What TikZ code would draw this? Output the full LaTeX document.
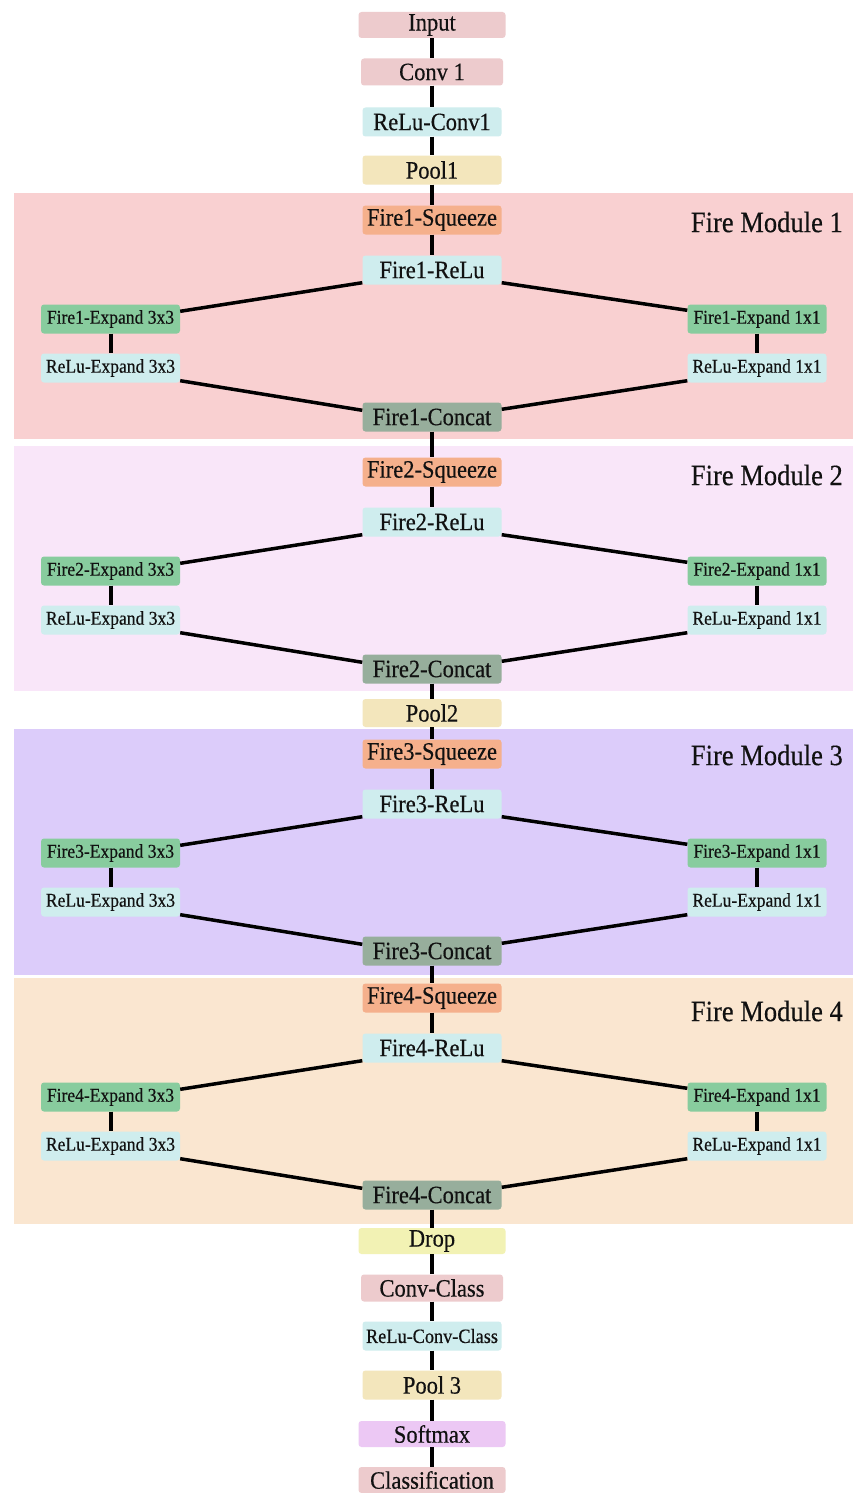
\documentclass[tikz,border=0pt]{standalone}
\usepackage{fontspec}
\setmainfont{Liberation Serif}[FakeStretch=0.9, FakeBold=0.4]
\usetikzlibrary{calc}
\definecolor{cpink}{HTML}{EDCBCD}
\definecolor{ccyan}{HTML}{CFEDEE}
\definecolor{cpool}{HTML}{F3E6BC}
\definecolor{csq}{HTML}{F5B08C}
\definecolor{cexp}{HTML}{88CC9E}
\definecolor{ccat}{HTML}{97AE9C}
\definecolor{cdrop}{HTML}{F2F2B4}
\definecolor{csoft}{HTML}{ECC8F4}
\definecolor{bgA}{HTML}{F9D0D1}
\definecolor{bgB}{HTML}{F9E6F9}
\definecolor{bgC}{HTML}{DCCCFA}
\definecolor{bgD}{HTML}{FAE6D0}
\definecolor{ink}{HTML}{111111}
\tikzset{
  box/.style={rounded corners=3pt, inner sep=0pt, minimum width=139pt, minimum height=29pt,
    text=ink, font=\fontsize{25}{25}\selectfont},
  wide/.style={box, minimum width=147pt, minimum height=26pt},
  mid/.style={box, minimum width=142pt, minimum height=27pt},
  small/.style={box, font=\fontsize{19.5}{19.5}\selectfont},
  conn/.style={draw=black, line width=4pt},
  diag/.style={draw=black, line width=3.5pt},
  modlabel/.style={anchor=east, inner sep=0pt, text=ink, font=\fontsize{29.5}{29.5}\selectfont}
}
\begin{document}
\begin{tikzpicture}[x=1pt,y=-1pt]
\useasboundingbox (0,0) rectangle (853,1493);
\fill[white] (0,0) rectangle (853,1493);
% module backgrounds
\fill[bgA] (14,193) rectangle (853,439);
\fill[bgB] (14,446) rectangle (853,691);
\fill[bgC] (14,729) rectangle (853,975);
\fill[bgD] (14,978) rectangle (853,1224);
\node[modlabel] (lab1) at (843,222) {Fire Module 1};
\node[modlabel] (lab2) at (843,475) {Fire Module 2};
\node[modlabel] (lab3) at (843,755) {Fire Module 3};
\node[modlabel] (lab4) at (843,1011) {Fire Module 4};
% top chain
\node[wide, fill=cpink] (input) at (432,25) {Input};
\node[mid, fill=cpink] (conv1) at (432,72) {Conv 1};
\node[box, fill=ccyan] (reluc1) at (432,122) {ReLu-Conv1};
\node[box, fill=cpool] (pool1) at (432,170) {Pool1};
% fire modules
\foreach \k/\s in {1/220, 2/472, 3/754, 4/998} {
  \node[box, fill=csq] (sq\k) at (432,\s) {Fire\k-Squeeze};
  \node[box, fill=ccyan] (relu\k) at (432,\s+50) {Fire\k-ReLu};
  \node[small, fill=cexp] (ethree\k) at (110.5,\s+99) {Fire\k-Expand 3x3};
  \node[small, fill=ccyan] (rthree\k) at (110.5,\s+148) {ReLu-Expand 3x3};
  \node[small, fill=cexp] (eone\k) at (757,\s+99) {Fire\k-Expand 1x1};
  \node[small, fill=ccyan] (rone\k) at (757,\s+148) {ReLu-Expand 1x1};
  \node[box, fill=ccat] (cat\k) at (432,\s+197) {Fire\k-Concat};
  \draw[conn] (sq\k) -- (relu\k);
  \draw[conn] (ethree\k) -- (rthree\k);
  \draw[conn] (eone\k) -- (rone\k);
  \draw[diag] ([yshift=2pt]relu\k.south west) -- ([yshift=-7pt]ethree\k.north east);
  \draw[diag] ([yshift=2pt]rthree\k.south east) -- ([yshift=-8pt]cat\k.north west);
  \draw[diag] ([yshift=2pt]relu\k.south east) -- ([yshift=-6pt]eone\k.north west);
  \draw[diag] ([yshift=-7pt]cat\k.north east) -- ([yshift=2pt]rone\k.south west);
}
\node[box, fill=cpool, minimum height=28pt] (pool2) at (432,713) {Pool2};
% bottom chain
\node[wide, fill=cdrop] (drop) at (432,1241) {Drop};
\node[mid, fill=cpink] (convc) at (432,1288) {Conv-Class};
\node[box, fill=ccyan, font=\fontsize{20.3}{20.3}\selectfont] (reluconvc) at (432,1336) {ReLu-Conv-Class};
\node[box, fill=cpool] (pool3) at (432,1385) {Pool 3};
\node[wide, fill=csoft] (softmax) at (432,1434) {Softmax};
\node[wide, fill=cpink] (classif) at (432,1480) {Classification};
% vertical connectors
\draw[conn] (input) -- (conv1);
\draw[conn] (conv1) -- (reluc1);
\draw[conn] (reluc1) -- (pool1);
\draw[conn] (pool1) -- (sq1);
\draw[conn] (cat1) -- (sq2);
\draw[conn] (cat2) -- (pool2);
\draw[conn] (pool2) -- (sq3);
\draw[conn] (cat3) -- (sq4);
\draw[conn] (cat4) -- (drop);
\draw[conn] (drop) -- (convc);
\draw[conn] (convc) -- (reluconvc);
\draw[conn] (reluconvc) -- (pool3);
\draw[conn] (pool3) -- (softmax);
\draw[conn] (softmax) -- (classif);
\end{tikzpicture}
\end{document}
